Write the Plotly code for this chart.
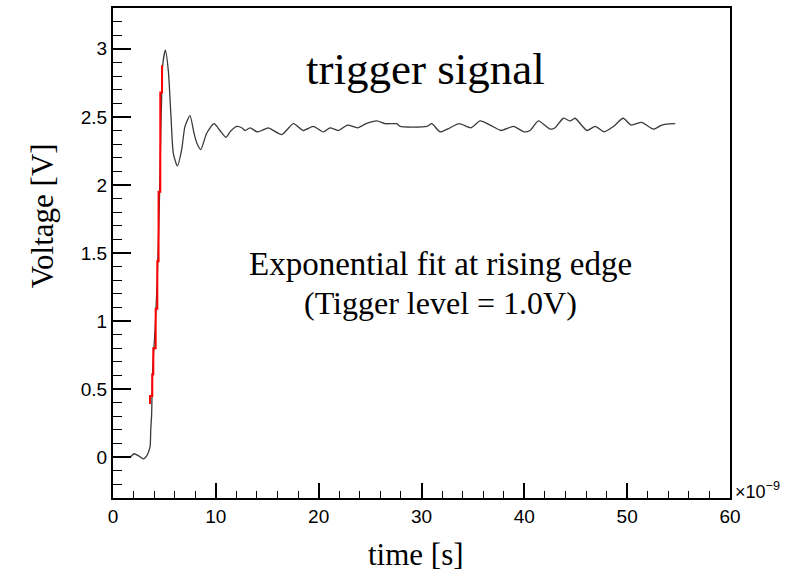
import plotly.graph_objects as go

# waveform (time in ns, voltage in V)
t_ns = [0.3, 1.0, 1.65, 2.04, 2.5, 2.95, 3.28, 3.6, 3.67, 3.76, 3.82, 3.9, 4.1, 4.3, 4.45,
        4.55, 4.65, 4.75, 4.83, 5.09, 5.38, 5.64, 5.87, 6.26, 6.68, 7.0, 7.49, 7.88, 8.14,
        8.53, 9.11, 9.83, 10.4, 10.99, 11.38, 12.03, 12.52, 12.84, 13.33, 14.0, 14.47,
        15.1, 16.41, 17.54, 18.51, 19.48, 20.46, 21.11, 21.92, 22.81, 23.78, 24.61, 25.65,
        26.46, 27.6, 27.92, 30.52, 31.0, 31.81, 32.78, 33.66, 34.82, 35.7, 36.67, 37.74,
        38.94, 39.98, 40.56, 41.37, 42.51, 42.99, 43.8, 44.46, 44.94, 46.08, 46.89, 47.76,
        48.67, 49.61, 50.39, 51.41, 52.56, 53.37, 54.57, 54.67]
volts = [0.0, 0.0, 0.0, 0.025, 0.01, -0.012, 0.01, 0.075, 0.2, 0.32, 0.56, 0.7, 0.95, 1.3, 1.7,
         2.0, 2.4, 2.7, 2.88, 2.99, 2.84, 2.50, 2.23, 2.14, 2.26, 2.43, 2.51, 2.38, 2.31,
         2.26, 2.38, 2.45, 2.40, 2.35, 2.39, 2.43, 2.42, 2.40, 2.42, 2.39, 2.40,
         2.42, 2.37, 2.45, 2.40, 2.43, 2.39, 2.42, 2.40, 2.44, 2.42, 2.45, 2.47,
         2.45, 2.45, 2.43, 2.43, 2.45, 2.39, 2.42, 2.45, 2.42, 2.47, 2.44, 2.40,
         2.43, 2.39, 2.40, 2.47, 2.41, 2.42, 2.49, 2.47, 2.49, 2.40, 2.43, 2.39,
         2.43, 2.49, 2.44, 2.46, 2.41, 2.44, 2.45, 2.45]

# exponential fit at rising edge (stepped)
fit_t_ns = [3.60, 3.82, 3.92, 4.15, 4.31, 4.43, 4.60, 4.77, 4.77]
fit_volts = [0.39, 0.45, 0.61, 0.80, 1.09, 1.44, 1.95, 2.68, 2.88]

x_ticks = [0, 10, 20, 30, 40, 50, 60]

fig = go.Figure()
fig.add_trace(go.Scatter(x=t_ns, y=volts, mode="lines",
                         line=dict(color="#3a3a3a", width=1.3, shape="spline", smoothing=0.6),
                         showlegend=False))
fig.add_trace(go.Scatter(x=fit_t_ns, y=fit_volts, mode="lines",
                         line=dict(color="#ff0000", width=2, shape="vh"), showlegend=False))

serif = "Liberation Serif"
sans = "Liberation Sans"

fig.update_layout(
    width=799, height=576,
    margin=dict(l=113, r=69, t=6, b=78),
    plot_bgcolor="white", paper_bgcolor="white",
    xaxis=dict(range=[0, 60], tickvals=x_ticks, ticktext=[str(v) for v in x_ticks],
               ticks="inside", ticklen=15, tickwidth=1.5, tickcolor="black",
               minor=dict(ticks="inside", ticklen=7, dtick=2, tickcolor="black", tickwidth=1.2),
               showline=True, linecolor="black", linewidth=2, mirror=True,
               showgrid=False, zeroline=False,
               tickfont=dict(family=sans, size=19, color="black")),
    yaxis=dict(range=[-0.3, 3.3], dtick=0.5, tick0=0,
               ticks="inside", ticklen=18, tickwidth=1.5, tickcolor="black",
               minor=dict(ticks="inside", ticklen=9, dtick=0.1, tickcolor="black", tickwidth=1.2),
               showline=True, linecolor="black", linewidth=2, mirror=True,
               showgrid=False, zeroline=False,
               tickfont=dict(family=sans, size=19, color="black")),
    annotations=[
        dict(text="trigger signal", xref="paper", yref="paper", x=0.506, y=0.876,
             xanchor="center", yanchor="middle",
             showarrow=False, font=dict(family=serif, size=45, color="black")),
        dict(text="Exponential fit at rising edge", xref="paper", yref="paper", x=0.530, y=0.478,
             xanchor="center", yanchor="middle",
             showarrow=False, font=dict(family=serif, size=33, color="black")),
        dict(text="(Tigger level = 1.0V)", xref="paper", yref="paper", x=0.530, y=0.398,
             xanchor="center", yanchor="middle",
             showarrow=False, font=dict(family=serif, size=32, color="black")),
        dict(text="time [s]", xref="paper", yref="paper", x=0.491, y=-0.116,
             xanchor="center", yanchor="middle",
             showarrow=False, font=dict(family=serif, size=31, color="black")),
        dict(text="Voltage [V]", xref="paper", yref="paper", x=-0.115, y=0.575, textangle=-90,
             xanchor="center", yanchor="middle",
             showarrow=False, font=dict(family=serif, size=31, color="black")),
        dict(text="×10<sup>−9</sup>", xref="paper", yref="paper", x=1.0, y=0.0,
             xanchor="left", yanchor="middle", xshift=3, yshift=8,
             showarrow=False, font=dict(family=sans, size=18, color="black")),
    ],
)

fig.write_html("out.html")
